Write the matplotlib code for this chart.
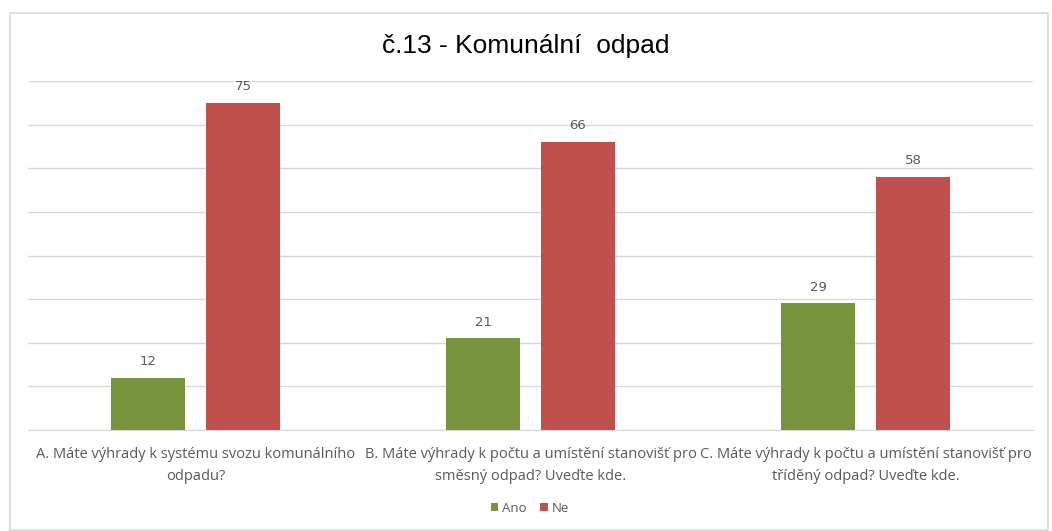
import matplotlib
matplotlib.use("Agg")
import matplotlib.pyplot as plt
import numpy as np
from matplotlib.patches import Rectangle

categories = [
    "A. Máte výhrady k systému svozu komunálního\nodpadu?",
    "B. Máte výhrady k počtu a umístění stanovišť pro\nsměsný odpad? Uveďte kde.",
    "C. Máte výhrady k počtu a umístění stanovišť pro\ntříděný odpad? Uveďte kde.",
]
ano = [12, 21, 29]
ne = [75, 66, 58]
series_names = ["Ano", "Ne"]
title = "č.13 - Komunální  odpad"

GREEN = "#77933C"
RED = "#C0504D"
TXT = "#595959"

fig = plt.figure(figsize=(10.52, 5.31), dpi=100)
fig.patch.set_facecolor("white")
# outer chart border
fig.add_artist(Rectangle((10/1052, 0.002), (1048-10)/1052, 1 - 13/531 - 0.002,
                         transform=fig.transFigure, fill=False,
                         edgecolor="#D9D9D9", linewidth=1.2))

ax = fig.add_axes([28/1052, 1 - 430/531, (1033-28)/1052, (430-81)/531])
x = np.arange(len(categories))
w = 0.22
off = 0.1415
b1 = ax.bar(x - off, ano, w, color=GREEN, label=series_names[0], zorder=3)
b2 = ax.bar(x + off, ne, w, color=RED, label=series_names[1], zorder=3)
for bars in (b1, b2):
    for r in bars:
        ax.text(r.get_x() + r.get_width()/2, r.get_height() + 2.2,
                f"{int(r.get_height())}", ha="center", va="bottom",
                fontsize=9.5, color=TXT, family="DejaVu Sans")

ax.set_xlim(-0.5, 2.5)
ax.set_ylim(0, 80)
ax.set_yticks(np.arange(0, 81, 10))
ax.yaxis.grid(True, color="#D9D9D9", linewidth=1, zorder=0)
ax.tick_params(axis="y", left=False, labelleft=False)
ax.tick_params(axis="x", bottom=False, pad=9)
ax.set_xticks(x)
ax.set_xticklabels(categories, fontsize=10.5, color=TXT, linespacing=1.6,
                   family="Open Sans")
for s in ["top", "right", "left"]:
    ax.spines[s].set_visible(False)
ax.spines["bottom"].set_color("#D9D9D9")

fig.text(0.5, 1 - 46/531, title, ha="center", va="center", fontsize=19,
         family="Liberation Sans", color="#000000")

leg = fig.legend(handles=[b1, b2], labels=series_names, loc="center",
                 bbox_to_anchor=(530/1052, 1 - 508/531), ncol=2, frameon=False,
                 fontsize=9.5, handlelength=0.6, handleheight=0.6,
                 handletextpad=0.3, columnspacing=1.0)
for t in leg.get_texts():
    t.set_color(TXT)
    t.set_family("Open Sans")

fig.savefig("out.png", dpi=100, facecolor="white")
